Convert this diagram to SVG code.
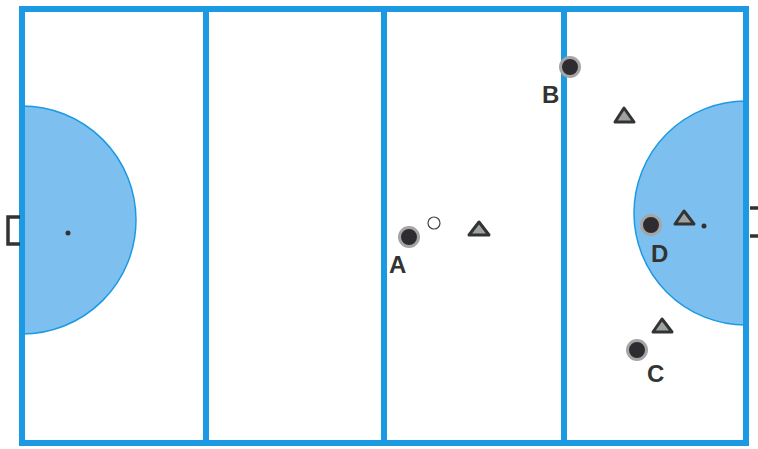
<svg xmlns="http://www.w3.org/2000/svg" width="758" height="449" viewBox="0 0 758 449">
<style>
.line{fill:none;stroke:#1b9ae3;stroke-width:6}
.zone{fill:#7dc0ef;stroke:#1b9ae3;stroke-width:1.5}
.goal{fill:none;stroke:#333;stroke-width:3.5}
.player{fill:#2e2c30;stroke:#a5a5a5;stroke-width:3}
.opp{fill:#9da3a3;stroke:#333;stroke-width:3;stroke-linejoin:round}
.lbl{font-family:"Liberation Sans",Arial,sans-serif;font-weight:bold;font-size:24px;fill:#333}
</style>
<rect width="758" height="449" fill="#fff"/>
<g id="field">
<path class="zone" d="M22 106 A114 114 0 0 1 22 334 Z"/>
<path class="zone" d="M746 101 A112 112 0 0 0 746 325 Z"/>
<rect class="line" x="22" y="9" width="724" height="434"/>
<line class="line" x1="206" y1="9" x2="206" y2="443"/>
<line class="line" x1="384" y1="9" x2="384" y2="443"/>
<line class="line" x1="564" y1="9" x2="564" y2="443"/>
<circle cx="68" cy="233" r="2.5" fill="#333"/>
<circle cx="704" cy="226" r="2.5" fill="#333"/>
<path class="goal" d="M20 217 H8 V244 H20"/>
<path class="goal" d="M750 208 H758 M750 236 H758"/>
</g>
<g id="ball"><circle cx="434" cy="223" r="6" fill="#fff" stroke="#444" stroke-width="1.2"/></g>
<g id="playerA"><circle class="player" cx="409" cy="237" r="9.5"/><text class="lbl" x="389" y="273">A</text></g>
<g id="playerB"><circle class="player" cx="570" cy="67" r="9.5"/><text class="lbl" x="542" y="103">B</text></g>
<g id="playerC"><circle class="player" cx="637" cy="350" r="9.5"/><text class="lbl" x="647" y="382">C</text></g>
<g id="playerD"><circle class="player" cx="651" cy="225" r="9.5"/><text class="lbl" x="651" y="262">D</text></g>
<g id="opponents">
<polygon class="opp" points="479,222 489,235 469,235"/>
<polygon class="opp" points="624,108 634,122 615,122"/>
<polygon class="opp" points="684,211 694,224 675,224"/>
<polygon class="opp" points="662,319 672,332 653,332"/>
</g>
</svg>
